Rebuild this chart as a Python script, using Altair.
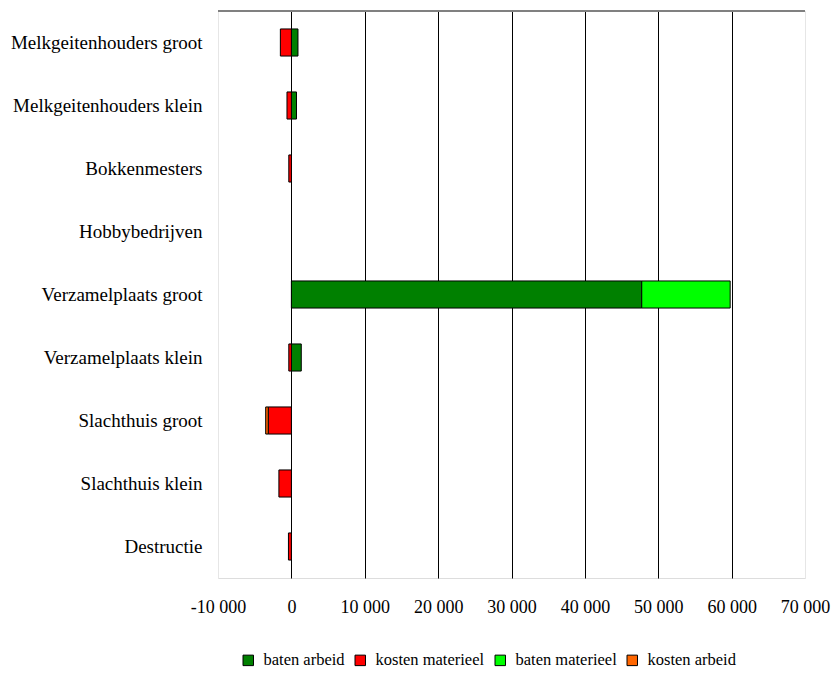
import altair as alt
import pandas as pd

# Categories, top to bottom
categories = [
    "Melkgeitenhouders groot",
    "Melkgeitenhouders klein",
    "Bokkenmesters",
    "Hobbybedrijven",
    "Verzamelplaats groot",
    "Verzamelplaats klein",
    "Slachthuis groot",
    "Slachthuis klein",
    "Destructie",
]

series = ["baten arbeid", "kosten materieel", "baten materieel", "kosten arbeid"]
colors = ["#008000", "#FF0000", "#00FF00", "#FF6600"]

baten_arbeid = [900, 700, 0, 0, 47750, 1350, 0, 0, 0]
kosten_materieel = [-1500, -600, -350, 0, 0, -350, -3150, -1700, -400]
baten_materieel = [0, 0, 0, 0, 12050, 0, 0, 0, 0]
kosten_arbeid = [0, 0, 0, 0, 0, 0, -350, 0, 0]

values_by_series = [baten_arbeid, kosten_materieel, baten_materieel, kosten_arbeid]

rows = []
for s_idx, (name, vals) in enumerate(zip(series, values_by_series)):
    for cat, v in zip(categories, vals):
        rows.append({"categorie": cat, "reeks": name, "waarde": v, "volgorde": s_idx})
df = pd.DataFrame(rows)

W, H = 587, 567
FONT = "Liberation Serif"

bars = alt.Chart(df).transform_filter("datum.waarde != 0").mark_bar(
    stroke="black", strokeWidth=1
).encode(
    y=alt.Y(
        "categorie:N",
        sort=categories,
        scale=alt.Scale(domain=categories, paddingInner=0.57, paddingOuter=0.285),
        axis=alt.Axis(
            title=None, domain=False, ticks=False, labelFont=FONT,
            labelFontSize=19, labelColor="black", labelPadding=16,
            labelLimit=300,
        ),
    ),
    x=alt.X(
        "sum(waarde):Q",
        stack="zero",
        scale=alt.Scale(domain=[-10000, 70000], nice=False, zero=False),
        axis=alt.Axis(
            title=None, domain=False, ticks=False,
            values=list(range(-10000, 70001, 10000)),
            labelFont=FONT, labelFontSize=18, labelColor="black",
            labelPadding=20, labelFlush=False,
            labelExpr="replace(replace(format(datum.value, ','), ',', ' '), '\u2212', '-')",
            grid=True,
            gridColor={
                "condition": {
                    "test": "datum.value == -10000 || datum.value == 70000",
                    "value": "#e6e6e6",
                },
                "value": "#000000",
            },
            gridWidth=1,
        ),
    ),
    color=alt.Color(
        "reeks:N",
        scale=alt.Scale(domain=series, range=colors),
        legend=alt.Legend(
            title=None, orient="none", direction="horizontal",
            legendX=22, legendY=641, symbolType="square", symbolSize=110,
            symbolStrokeColor="black", symbolStrokeWidth=1,
            labelFont=FONT, labelFontSize=16.5, labelColor="black",
            columnPadding=7, labelOffset=7,
        ),
    ),
    order=alt.Order("volgorde:Q"),
)

top_line = alt.Chart(df).mark_rule(color="#808080", strokeWidth=1.5).encode(
    x=alt.value(0), x2=alt.value(W), y=alt.value(0)
)

chart = (
    alt.layer(bars, top_line)
    .properties(
        width=W, height=H,
        autosize=alt.AutoSizeParams(type="none"),
        padding={"left": 218, "top": 11, "right": 30, "bottom": 95},
    )
    .configure_view(stroke=None)
    .configure(background="white")
)

chart.save("out.html", embed_options={"renderer": "svg", "actions": False})
